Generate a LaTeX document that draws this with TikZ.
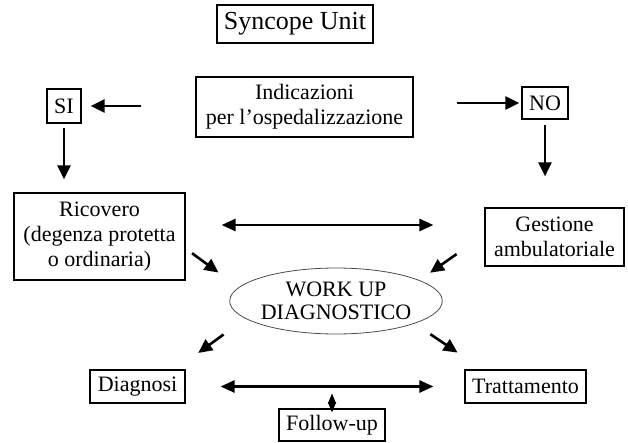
\documentclass[tikz,border=0pt]{standalone}
\usepackage{fontspec}
\setmainfont{Liberation Serif}
\usetikzlibrary{arrows.meta,shapes.geometric}
\tikzset{
  box/.style={draw, line width=1.2pt, align=center, inner sep=0pt, font=\fontsize{22}{25}\selectfont},
  arr/.style={line width=2.6pt, -{Triangle[length=14pt,width=13pt]}},
  arrboth/.style={line width=2.6pt, {Triangle[length=14pt,width=12pt]}-{Triangle[length=14pt,width=12pt]}},
  arrdiamond/.style={line width=1pt, {Triangle[length=10pt,width=8pt]}-{Triangle[length=10pt,width=8pt]}},
}
\begin{document}
\begin{tikzpicture}[x=1pt,y=-1pt]
  \useasboundingbox (0,0) rectangle (628,442);

  \node [box, minimum width=156pt, minimum height=38pt, font=\fontsize{26}{29}\selectfont] (syncope) at (295,24) {Syncope Unit};
  \node [box, minimum width=217pt, minimum height=60pt] (ind) at (304.5,107) {Indicazioni\\per l'ospedalizzazione};
  \node [box, minimum width=34pt, minimum height=34pt] (si) at (64,106) {SI};
  \node [box, minimum width=46pt, minimum height=32pt] (no) at (545,103) {NO};
  \node [box, minimum width=171pt, minimum height=87pt] (ric) at (99.5,236.5) {Ricovero\\(degenza protetta\\o ordinaria)};
  \node [box, minimum width=139pt, minimum height=58pt] (gest) at (554.5,237) {Gestione\\ambulatoriale};
  \node [ellipse, draw=gray!60!black, line width=0.8pt, minimum width=208pt, minimum height=66pt, inner sep=0pt, align=center, font=\fontsize{22}{23}\selectfont] (wu) at (336,301) {WORK UP\\DIAGNOSTICO};
  \node [box, minimum width=95pt, minimum height=33pt] (diag) at (137.5,386.5) {Diagnosi};
  \node [box, minimum width=121pt, minimum height=33pt] (tratt) at (525.5,386.5) {Trattamento};
  \node [box, minimum width=106pt, minimum height=32pt] (fu) at (332,425) {Follow-up};

  \draw [arr, shorten <=54pt, shorten >=9pt] (si.east -| ind.west) -- (si.east);
  \draw [arr, shorten <=43pt, shorten >=2pt] (no.west -| ind.east) -- (no.west);
  \draw [arr, shorten <=4pt, shorten >=13pt] (si.south) -- (si.south |- ric.north);
  \draw [arr, shorten <=5pt, shorten >=31pt] (no.south) -- (no.south |- gest.north);

  \draw [arrboth, shorten <=36pt, shorten >=51pt] ([yshift=11.5pt]ric.east) -- ([yshift=12pt]gest.west);
  \draw [arr, shorten <=8pt, shorten >=25pt] ([yshift=-12pt]ric.east) -- (wu.172);
  \draw [arr, shorten <=34pt, shorten >=13pt] ([yshift=2.5pt]gest.west) -- (wu.14.5);

  \draw [arr, shorten <=27pt, shorten >=28pt] (wu.191.7) -- ([xshift=-10pt]diag.north east);
  \draw [arr, shorten <=19pt, shorten >=30pt] (wu.-16.9) -- ([xshift=18pt]tratt.north west);

  \draw [arrboth, shorten <=35pt, shorten >=31pt] (diag.east) -- (tratt.west);
  \draw [arrdiamond, shorten <=-4pt, shorten >=7pt] (fu.north) -- (fu.north |- diag.east);
\end{tikzpicture}
\end{document}
